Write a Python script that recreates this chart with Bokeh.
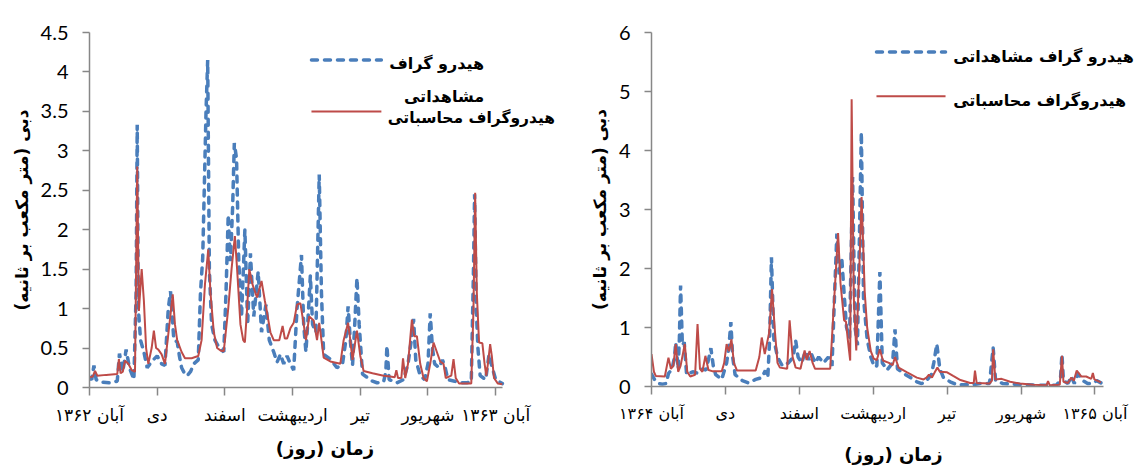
from bokeh.plotting import figure
from bokeh.layouts import row
from bokeh.models import FixedTicker, Range1d, Label
from bokeh.embed import file_html
from bokeh.resources import INLINE

# ---------------- data ----------------
month_ticks = [0, 61, 122, 183, 244, 305, 366]
labels_1362 = ["آبان ۱۳۶۲", "دی", "اسفند", "اردیبهشت", "تیر", "شهریور", "آبان ۱۳۶۳"]
labels_1364 = ["آبان ۱۳۶۴", "دی", "اسفند", "اردیبهشت", "تیر", "شهریور", "آبان ۱۳۶۵"]

obs1_day = [0, 2, 4, 6, 10, 18, 25, 27, 30, 33, 36, 40, 42, 43, 44, 46, 49, 52, 56, 61, 65, 68,
            71, 73, 76, 79, 81, 83, 86, 88, 91, 94, 98, 100, 102, 105, 106.5, 108, 110, 113, 117,
            121, 123, 125, 127, 129, 130.5, 132.5, 134.5, 137, 140, 142.5, 145, 148, 152, 155, 159,
            162, 166, 169, 172, 175, 178, 181, 184, 187, 191, 193, 195, 197, 199, 201, 204, 207,
            209, 211, 217, 223, 228, 231, 233, 235, 237, 239, 241, 243, 246, 250, 255, 259, 265,
            267, 268, 270, 277, 283, 287, 290, 292, 294, 298, 302, 305, 307, 309, 311, 315, 318,
            320, 323, 329, 334, 340, 344, 346, 347, 348.5, 350, 352, 357, 360, 362, 366, 372]
obs1_val = [0.12, 0.1, 0.28, 0.1, 0.07, 0.06, 0.08, 0.43, 0.2, 0.48, 0.25, 0.1, 1.2, 3.33, 1.0,
            0.6, 0.45, 0.25, 0.33, 0.4, 0.3, 0.28, 1.0, 1.22, 0.6, 0.58, 0.4, 0.25, 0.17, 0.15, 0.2,
            0.3, 0.35, 1.2, 1.64, 3.5, 4.15, 1.5, 0.8, 0.6, 0.5, 0.45, 1.2, 2.19, 1.6, 2.3, 3.1, 2.9,
            1.6, 0.9, 2.0, 0.8, 1.7, 0.9, 1.47, 0.7, 1.05, 0.6, 0.45, 0.32, 0.42, 0.3, 0.4, 0.3,
            0.22, 1.0, 1.68, 0.8, 0.45, 0.9, 1.42, 0.8, 0.7, 2.7, 1.2, 0.42, 0.36, 0.25, 0.3, 0.6,
            1.03, 0.6, 0.28, 0.8, 1.39, 0.8, 0.17, 0.13, 0.08, 0.06, 0.07, 0.2, 0.53, 0.1, 0.06,
            0.1, 0.3, 0.6, 0.87, 0.35, 0.15, 0.1, 0.3, 0.94, 0.5, 0.3, 0.25, 0.35, 0.28, 0.1, 0.08,
            0.06, 0.06, 0.07, 1.5, 2.45, 1.0, 0.5, 0.15, 0.1, 0.42, 0.3, 0.1, 0.05]

sim1_day = [0, 3, 5, 7, 15, 25, 26.5, 28, 30, 32, 35, 38, 41, 43, 44.5, 47, 49, 51, 53, 56, 58,
            60, 62, 65, 68, 72, 75, 77, 79, 83, 86, 92, 98, 101, 104, 107, 109, 112, 115, 118,
            121, 125, 128, 131, 133, 136, 138.5, 140, 142, 144, 147, 151, 155, 158, 160, 163, 166,
            171, 174, 176, 178, 181, 184, 187, 190, 193, 195, 198, 202, 205, 207, 209, 211, 217,
            226, 229, 233, 235, 237, 241, 244, 247, 255, 265, 271, 275, 276.5, 278, 281, 282.5,
            284.5, 287, 290.5, 292.5, 295, 298, 301, 304, 307, 310, 313, 316, 319, 321, 326, 328,
            330, 333, 344, 346, 347.5, 349, 351, 354, 356, 357.5, 359, 361, 362.5, 364.5, 368, 372]
sim1_val = [0.13, 0.14, 0.21, 0.15, 0.16, 0.17, 0.36, 0.18, 0.2, 0.34, 0.3, 0.22, 0.2, 2.8, 0.97,
            1.5, 1.1, 0.5, 0.3, 0.5, 0.72, 0.5, 0.48, 0.42, 0.3, 0.8, 1.18, 0.8, 0.6, 0.45, 0.37,
            0.37, 0.4, 0.6, 1.3, 1.75, 1.2, 0.7, 0.5, 0.47, 0.46, 1.0, 1.5, 1.92, 1.5, 0.8, 0.6,
            0.57, 1.0, 1.5, 1.3, 1.14, 1.35, 1.1, 0.95, 0.7, 0.6, 0.6, 0.78, 0.62, 0.62, 0.75,
            0.82, 1.05, 1.07, 0.8, 0.6, 0.9, 0.85, 0.6, 0.82, 0.6, 0.38, 0.33, 0.3, 0.6, 0.82,
            0.6, 0.35, 0.72, 0.4, 0.21, 0.18, 0.15, 0.14, 0.13, 0.22, 0.12, 0.12, 0.37, 0.12, 0.3,
            0.86, 0.65, 0.65, 0.3, 0.12, 0.08, 0.3, 0.57, 0.45, 0.33, 0.3, 0.12, 0.15, 0.36, 0.12,
            0.05, 0.05, 1.0, 2.47, 1.2, 0.57, 0.56, 0.3, 0.15, 0.3, 0.55, 0.4, 0.12, 0.05, 0.04]

obs2_day = [0, 3, 6, 9, 12, 14, 17, 19, 20, 22, 23, 24, 25.5, 27, 29, 34, 39, 42, 45, 47, 49, 51,
            53, 58, 62, 64, 65.5, 67, 69, 75, 80, 86, 91, 94, 96, 97.5, 99, 101, 104, 108, 113, 117,
            119, 121, 124, 127, 130, 132, 135, 138, 142, 146, 149, 151, 153, 155, 157, 159, 161,
            163.5, 166, 168, 170, 173.2, 175, 178, 181, 184, 186, 188.5, 190.5, 194.5, 199, 201,
            203, 208, 214, 219, 223, 227, 231, 233, 235.5, 238, 241, 246.5, 252, 258, 266, 271,
            276, 279, 282, 284, 290, 298, 310, 318, 326, 334, 337.5, 338.8, 340, 343.7, 346.5,
            349, 352, 356, 360, 364, 367.5, 372]
obs2_val = [0.21, 0.1, 0.05, 0.04, 0.05, 0.22, 0.3, 0.5, 0.75, 0.3, 0.8, 1.71, 0.7, 0.75, 0.2,
            0.25, 0.22, 0.3, 0.28, 0.45, 0.65, 0.35, 0.2, 0.12, 0.4, 0.7, 1.09, 0.5, 0.2, 0.1,
            0.06, 0.12, 0.15, 0.27, 0.15, 0.8, 2.19, 0.8, 0.5, 0.35, 0.4, 0.5, 0.78, 0.5, 0.4, 0.6,
            0.45, 0.55, 0.4, 0.5, 0.4, 0.5, 0.35, 1.5, 2.59, 1.9, 2.19, 1.57, 1.0, 0.83, 3.55, 1.0,
            0.7, 4.31, 1.5, 0.8, 0.5, 0.33, 0.35, 1.94, 0.4, 0.28, 0.4, 0.97, 0.3, 0.22, 0.15,
            0.08, 0.05, 0.1, 0.2, 0.4, 0.72, 0.3, 0.15, 0.08, 0.03, 0.03, 0.03, 0.05, 0.05, 0.05,
            0.66, 0.1, 0.05, 0.04, 0.03, 0.02, 0.02, 0.02, 0.1, 0.55, 0.1, 0.05, 0.17, 0.05, 0.22,
            0.1, 0.05, 0.05, 0.1, 0.05]

sim2_day = [0, 2, 3.5, 11, 14, 16, 18, 20, 22, 24, 27.5, 29.5, 32, 36, 38, 40, 42, 44.5, 47, 50,
            58, 60, 62, 64, 66, 68, 70.6, 86, 89, 91, 93.5, 97, 99.5, 102, 104, 106, 112, 114,
            116.5, 119, 123, 126.4, 128, 130.5, 133, 135, 147.5, 150, 154, 156, 159, 160.5, 162,
            164, 165.2, 167, 169, 171.5, 173.4, 176, 178, 181, 183.5, 186, 188.5, 191, 196, 199,
            201, 204, 211, 219, 224.6, 227, 229, 231.5, 234, 236, 238, 244, 249, 255, 263, 266,
            267, 268.4, 279, 281, 282, 283.8, 289, 296, 304, 315, 326, 327.3, 328.7, 337, 338.8,
            340, 343.7, 346.5, 348.6, 351, 354.7, 358.8, 363, 364.3, 365.6, 371]
sim2_val = [0.55, 0.25, 0.18, 0.17, 0.49, 0.3, 0.35, 0.72, 0.25, 0.35, 0.72, 0.25, 0.17, 0.2,
            1.06, 0.3, 0.25, 0.52, 0.28, 0.26, 0.26, 0.4, 0.72, 0.6, 0.8, 0.4, 0.27, 0.27, 0.5,
            0.83, 0.55, 0.9, 1.65, 0.9, 0.4, 0.32, 0.3, 1.12, 0.5, 0.32, 0.3, 0.61, 0.45, 0.6, 0.4,
            0.3, 0.3, 1.2, 2.6, 1.75, 1.12, 1.1, 0.8, 0.44, 4.87, 1.5, 0.61, 2.0, 3.21, 1.6, 1.0,
            0.6, 0.47, 0.45, 0.63, 0.44, 0.4, 0.36, 0.5, 0.32, 0.24, 0.15, 0.12, 0.15, 0.2, 0.15,
            0.25, 0.32, 0.25, 0.24, 0.18, 0.11, 0.06, 0.06, 0.27, 0.06, 0.05, 0.1, 0.63, 0.12,
            0.13, 0.08, 0.05, 0.03, 0.02, 0.09, 0.02, 0.03, 0.52, 0.08, 0.06, 0.15, 0.1, 0.27,
            0.17, 0.17, 0.13, 0.23, 0.12, 0.07]

y1_ticks = [0, 0.5, 1, 1.5, 2, 2.5, 3, 3.5, 4, 4.5]
y2_ticks = [0, 1, 2, 3, 4, 5, 6]

name_obs_left = ["هیدرو گراف", "مشاهداتی"]
name_obs = "هیدرو گراف مشاهداتی"
name_sim = "هیدروگراف محاسباتی"
x_title = "زمان (روز)"
y_title = "دبی (متر مکعب بر ثانیه)"

BLUE = "#4A7EBB"
RED = "#BE4B48"
AXIS = "#878787"
FA = "DejaVu Sans"
NUM = "Lato"


def make_fig(xmax, xview, ymax, yticks, xlabels, fw, fh, bl, bt, bb, xfs, xstand, ystand):
    p = figure(width=bl + fw, height=bt + fh + bb, frame_width=fw, frame_height=fh,
               x_range=Range1d(0, xview), y_range=Range1d(0, ymax),
               output_backend="svg", toolbar_location=None,
               min_border_left=bl, min_border_right=0, min_border_top=bt, min_border_bottom=bb)
    p.outline_line_color = None
    p.xgrid.visible = False
    p.ygrid.visible = False
    p.background_fill_color = "white"
    p.border_fill_color = "white"

    xa = p.xaxis[0]
    xa.bounds = (0, xmax)
    xa.ticker = FixedTicker(ticks=month_ticks)
    xa.major_label_overrides = {t: l for t, l in zip(month_ticks, xlabels)}
    xa.minor_tick_line_color = None
    xa.major_tick_in = 0
    xa.major_tick_out = 8
    xa.axis_line_color = AXIS
    xa.axis_line_width = 1.5
    xa.major_tick_line_color = AXIS
    xa.major_tick_line_width = 1.5
    xa.major_label_text_font = FA
    xa.major_label_text_font_size = xfs
    xa.major_label_text_color = "black"
    xa.major_label_standoff = 9
    xa.axis_label = x_title
    xa.axis_label_text_font = FA
    xa.axis_label_text_font_style = "bold"
    xa.axis_label_text_font_size = "18px"
    xa.axis_label_text_color = "black"
    xa.axis_label_standoff = xstand

    ya = p.yaxis[0]
    ya.ticker = FixedTicker(ticks=yticks)
    ya.major_label_overrides = {t: ("%g" % t) for t in yticks}
    ya.minor_tick_line_color = None
    ya.major_tick_in = 0
    ya.major_tick_out = 7
    ya.axis_line_color = AXIS
    ya.axis_line_width = 1.5
    ya.major_tick_line_color = AXIS
    ya.major_tick_line_width = 1.5
    ya.major_label_text_font = NUM
    ya.major_label_text_font_size = "20px"
    ya.major_label_text_color = "black"
    ya.major_label_standoff = 14
    ya.axis_label = y_title
    ya.axis_label_text_font = FA
    ya.axis_label_text_font_style = "bold"
    ya.axis_label_text_font_size = "17px"
    ya.axis_label_text_color = "black"
    ya.axis_label_standoff = ystand
    return p


def draw(p, od, ov, sd, sv):
    p.line(od, ov, line_color=BLUE, line_width=3.5, line_dash="6 7", line_cap="round")
    p.line(sd, sv, line_color=RED, line_width=2)


def legend_line(p, x0, x1, y, dashed):
    if dashed:
        p.line([x0, x1], [y, y], line_color=BLUE, line_width=3.5, line_dash="6 7", line_cap="round")
    else:
        p.line([x0, x1], [y, y], line_color=RED, line_width=2)


def legend_text(p, x, y, txt, align="left", size="16px"):
    p.add_layout(Label(x=x, y=y, text=txt, text_font=FA, text_font_style="bold",
                       text_font_size=size, text_align=align, text_baseline="middle",
                       text_color="black"))


# ---------- left panel ----------
p1 = make_fig(372, 424.4, 4.5, y1_ticks, labels_1362, 471, 355, 89, 22, 93, "17px", 10, 6)
draw(p1, obs1_day, obs1_val, sim1_day, sim1_val)
legend_line(p1, 200, 263, 4.15, True)
legend_line(p1, 200, 263, 3.50, False)
legend_text(p1, 270, 4.11, name_obs_left[0])
legend_text(p1, 355.6, 3.69, name_obs_left[1], align="right")
legend_text(p1, 419.5, 3.41, name_sim, align="right", size="15.5px")

# ---------- right panel ----------
p2 = make_fig(373, 399.5, 6, y2_ticks, labels_1364, 484, 354, 91, 32, 84, "16px", 18, 6)
draw(p2, obs2_day, obs2_val, sim2_day, sim2_val)
legend_line(p2, 185.7, 242.7, 5.67, True)
legend_line(p2, 185.7, 242.7, 4.92, False)
legend_text(p2, 249, 5.59, name_obs)
legend_text(p2, 249, 4.85, name_sim)

layout = row(p1, p2)
open("out.html", "w").write(file_html(layout, INLINE))
